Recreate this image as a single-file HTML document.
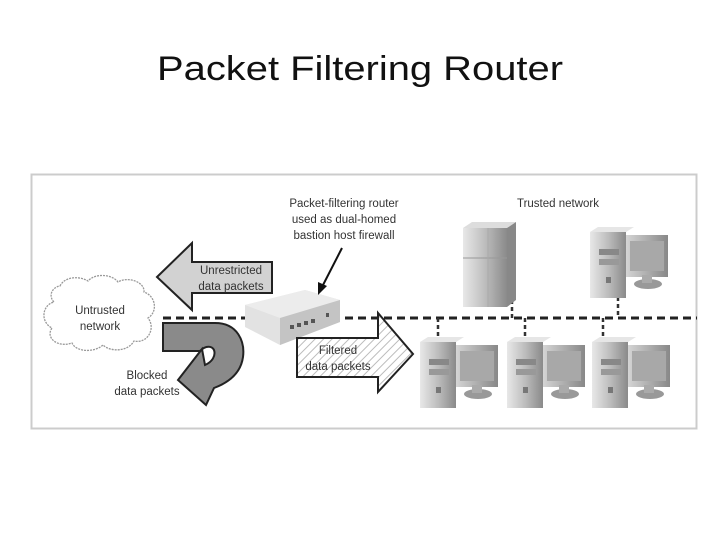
<!DOCTYPE html>
<html><head><meta charset="utf-8"><style>
html,body{margin:0;padding:0;background:#fff;}
svg{display:block}
text{font-family:"Liberation Sans",sans-serif;}
.l{font-size:11.5px;fill:#333;font-family:"Liberation Sans Narrow","Liberation Sans",sans-serif;}
</style></head><body>
<svg width="720" height="540" viewBox="0 0 720 540" xmlns="http://www.w3.org/2000/svg">
<defs>
<linearGradient id="tw" x1="0" x2="1"><stop offset="0" stop-color="#e8e8e8"/><stop offset="0.5" stop-color="#bdbdbd"/><stop offset="1" stop-color="#8a8a8a"/></linearGradient>
<linearGradient id="mn" x1="0" x2="1"><stop offset="0" stop-color="#d8d8d8"/><stop offset="1" stop-color="#888"/></linearGradient>
<pattern id="hat" width="6" height="6" patternUnits="userSpaceOnUse" patternTransform="rotate(45)"><rect width="6" height="6" fill="#fff"/><line x1="0" y1="0" x2="0" y2="6" stroke="#bbb" stroke-width="2"/></pattern>
<g id="pc">
<rect x="34" y="8" width="44" height="42" fill="url(#mn)"/>
<rect x="40" y="14" width="34" height="30" fill="#a8a8a8"/>
<ellipse cx="58" cy="57" rx="14" ry="5" fill="#999"/>
<rect x="52" y="48" width="10" height="8" fill="#aaa"/>
<rect x="0" y="5" width="36" height="66" fill="url(#tw)"/>
<polygon points="0,5 8,0 44,0 36,5" fill="#e6e6e6"/>
<rect x="9" y="22" width="20" height="6" fill="#888"/>
<rect x="9" y="32" width="20" height="6" fill="#999"/>
<rect x="16" y="50" width="5" height="6" fill="#777"/>
</g>
</defs>
<text x="157" y="80" textLength="406" lengthAdjust="spacingAndGlyphs" font-size="34" fill="#111">Packet Filtering Router</text>
<rect x="31.5" y="174.5" width="665" height="254" fill="#fff" stroke="#ccc" stroke-width="2"/>
<line x1="163" y1="318" x2="697" y2="318" stroke="#222" stroke-width="3" stroke-dasharray="8,5"/>
<g stroke="#333" stroke-width="2.5" stroke-dasharray="4,3">
<line x1="438" y1="318" x2="438" y2="338"/>
<line x1="525" y1="318" x2="525" y2="338"/>
<line x1="603" y1="318" x2="603" y2="338"/>
<line x1="512" y1="300" x2="512" y2="318"/>
<line x1="618" y1="290" x2="618" y2="318"/>
</g>
<path d="M60,286 C65,276 80,276 88,281 C95,273 112,274 118,282 C128,276 145,282 144,292 C156,296 158,312 148,318 C156,328 148,344 134,341 C128,352 110,352 103,345 C94,353 76,352 72,343 C58,348 45,338 52,328 C40,322 42,305 54,302 C48,296 52,287 60,286 Z" fill="#fff" stroke="#999" stroke-width="1.3" stroke-dasharray="2,1"/>
<text class="l" x="100" y="314" text-anchor="middle">Untrusted</text>
<text class="l" x="100" y="330" text-anchor="middle">network</text>
<polygon points="157,277 192,243 192,262 272,262 272,293 192,293 192,310" fill="#d2d2d2" stroke="#222" stroke-width="2"/>
<text class="l" x="231" y="274" text-anchor="middle">Unrestricted</text>
<text class="l" x="231" y="290" text-anchor="middle">data packets</text>
<path d="M163,323 L215,323 C238,323 245,342 243,357 C241,372 230,382 214,388 L206,405 L178,380 L202,349 L205,365 C212,362 216,356 214,350 C212,346 206,345 200,351 L163,351 Z" fill="#8a8a8a" stroke="#222" stroke-width="2"/>
<text class="l" x="147" y="379" text-anchor="middle">Blocked</text>
<text class="l" x="147" y="395" text-anchor="middle">data packets</text>
<polygon points="245,305 305,290 340,300 340,322 280,345 245,327" fill="#e2e2e2"/>
<polygon points="245,305 280,318 340,300 305,290" fill="#ececec"/>
<polygon points="280,318 340,300 340,322 280,345" fill="#c4c4c4"/>
<g fill="#555"><rect x="290" y="325" width="4" height="4"/><rect x="297" y="323" width="4" height="4"/><rect x="304" y="321" width="4" height="4"/><rect x="311" y="319" width="4" height="4"/><rect x="326" y="313" width="3" height="4"/></g>
<text class="l" x="344" y="207" text-anchor="middle">Packet-filtering router</text>
<text class="l" x="344" y="223" text-anchor="middle">used as dual-homed</text>
<text class="l" x="344" y="239" text-anchor="middle">bastion host firewall</text>
<line x1="342" y1="248" x2="322" y2="287" stroke="#111" stroke-width="2"/>
<polygon points="318,295 318,282 327,286" fill="#111"/>
<polygon points="297,338 378,338 378,313 413,354 378,392 378,377 297,377" fill="url(#hat)" stroke="#222" stroke-width="2"/>
<text class="l" x="338" y="354" text-anchor="middle">Filtered</text>
<text class="l" x="338" y="370" text-anchor="middle">data packets</text>
<text class="l" x="558" y="207" text-anchor="middle">Trusted network</text>
<polygon points="463,228 472,222 516,222 507,228" fill="#ddd"/>
<rect x="463" y="228" width="44" height="79" fill="url(#tw)"/>
<polygon points="507,228 516,222 516,300 507,307" fill="#888"/>
<line x1="463" y1="258" x2="507" y2="258" stroke="#999"/>
<line x1="488" y1="228" x2="488" y2="307" stroke="#aaa"/>
<use href="#pc" x="590" y="227"/>
<use href="#pc" x="420" y="337"/>
<use href="#pc" x="507" y="337"/>
<use href="#pc" x="592" y="337"/>
</svg>
</body></html>
